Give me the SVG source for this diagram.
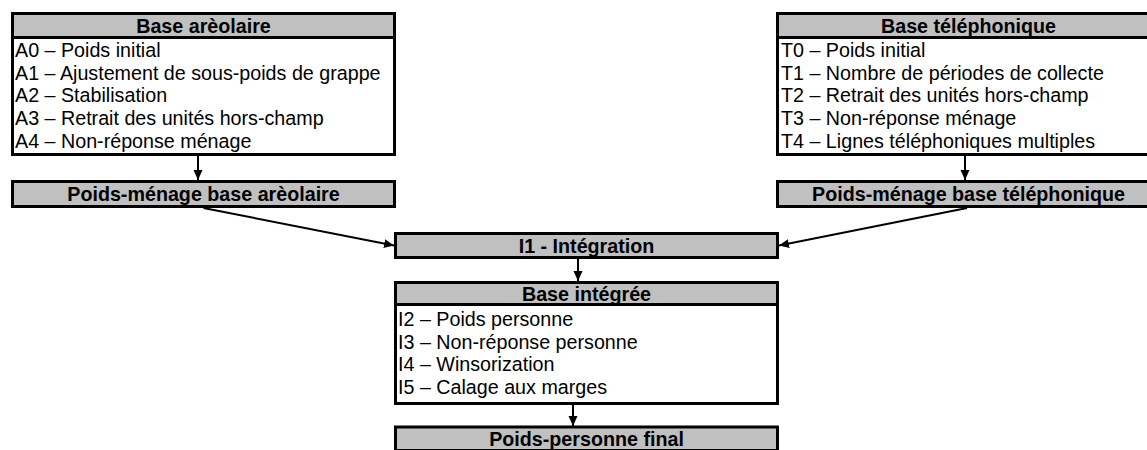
<svg xmlns="http://www.w3.org/2000/svg" width="1147" height="450" viewBox="0 0 1147 450">
<style>
.hd{fill:#c0c0c0;stroke:#000;stroke-width:3}
.bd{fill:#fff;stroke:#000;stroke-width:3}
text{font-family:"Liberation Sans",Arial,sans-serif;font-size:19.7px;fill:#000}
.b{font-weight:bold;text-anchor:middle}
.cn{stroke:#000;stroke-width:2;fill:none;marker-end:url(#ah)}
</style>
<defs>
<marker id="ah" markerUnits="userSpaceOnUse" markerWidth="11" markerHeight="10" refX="10" refY="5" orient="auto" viewBox="0 0 11 10">
<path d="M0,0.5 L10,5 L0,9.5 z" fill="#000"/>
</marker>
</defs>
<g id="connectors">
<line class="cn" x1="198" y1="156" x2="198" y2="180"/>
<line class="cn" x1="965" y1="156" x2="965" y2="180"/>
<line class="cn" x1="203.5" y1="208" x2="394" y2="245.5"/>
<line class="cn" x1="967" y1="208" x2="779" y2="245.5"/>
<line class="cn" x1="578" y1="259" x2="578" y2="281"/>
<line class="cn" x1="573" y1="405" x2="573" y2="426"/>
</g>
<g id="base-areolaire">
<rect class="hd" x="12.5" y="13.5" width="382" height="24"/>
<rect class="bd" x="12.5" y="37.5" width="382" height="117"/>
<text class="b" x="203.5" y="32.5">Base arèolaire</text>
<text x="15" y="56.8">A0 – Poids initial</text>
<text x="15" y="79.6">A1 – Ajustement de sous-poids de grappe</text>
<text x="15" y="102.4">A2 – Stabilisation</text>
<text x="15" y="125.2">A3 – Retrait des unités hors-champ</text>
<text x="15" y="148">A4 – Non-réponse ménage</text>
</g>
<g id="poids-menage-areolaire">
<rect class="hd" x="12.5" y="181.5" width="382" height="25"/>
<text class="b" x="203.5" y="201">Poids-ménage base arèolaire</text>
</g>
<g id="base-telephonique">
<rect class="hd" x="777.5" y="13.5" width="382" height="24"/>
<rect class="bd" x="777.5" y="37.5" width="382" height="117"/>
<text class="b" x="968.5" y="32.5">Base téléphonique</text>
<text x="781" y="56.8">T0 – Poids initial</text>
<text x="781" y="79.6">T1 – Nombre de périodes de collecte</text>
<text x="781" y="102.4">T2 – Retrait des unités hors-champ</text>
<text x="781" y="125.2">T3 – Non-réponse ménage</text>
<text x="781" y="148">T4 – Lignes téléphoniques multiples</text>
</g>
<g id="poids-menage-telephonique">
<rect class="hd" x="777.5" y="181.5" width="382" height="25"/>
<text class="b" x="968.5" y="201">Poids-ménage base téléphonique</text>
</g>
<g id="integration">
<rect class="hd" x="395.5" y="233.5" width="382" height="24"/>
<text class="b" x="586.5" y="252.5">I1 - Intégration</text>
</g>
<g id="base-integree">
<rect class="hd" x="395.5" y="282.5" width="382" height="22"/>
<rect class="bd" x="395.5" y="304.5" width="382" height="99"/>
<text class="b" x="586.5" y="300.5">Base intégrée</text>
<text x="398" y="326">I2 – Poids personne</text>
<text x="398" y="348.5">I3 – Non-réponse personne</text>
<text x="398" y="371">I4 – Winsorization</text>
<text x="398" y="393.5">I5 – Calage aux marges</text>
</g>
<g id="poids-personne-final">
<rect class="hd" x="395.5" y="427" width="382" height="23.5"/>
<text class="b" x="586.5" y="446">Poids-personne final</text>
</g>
</svg>
